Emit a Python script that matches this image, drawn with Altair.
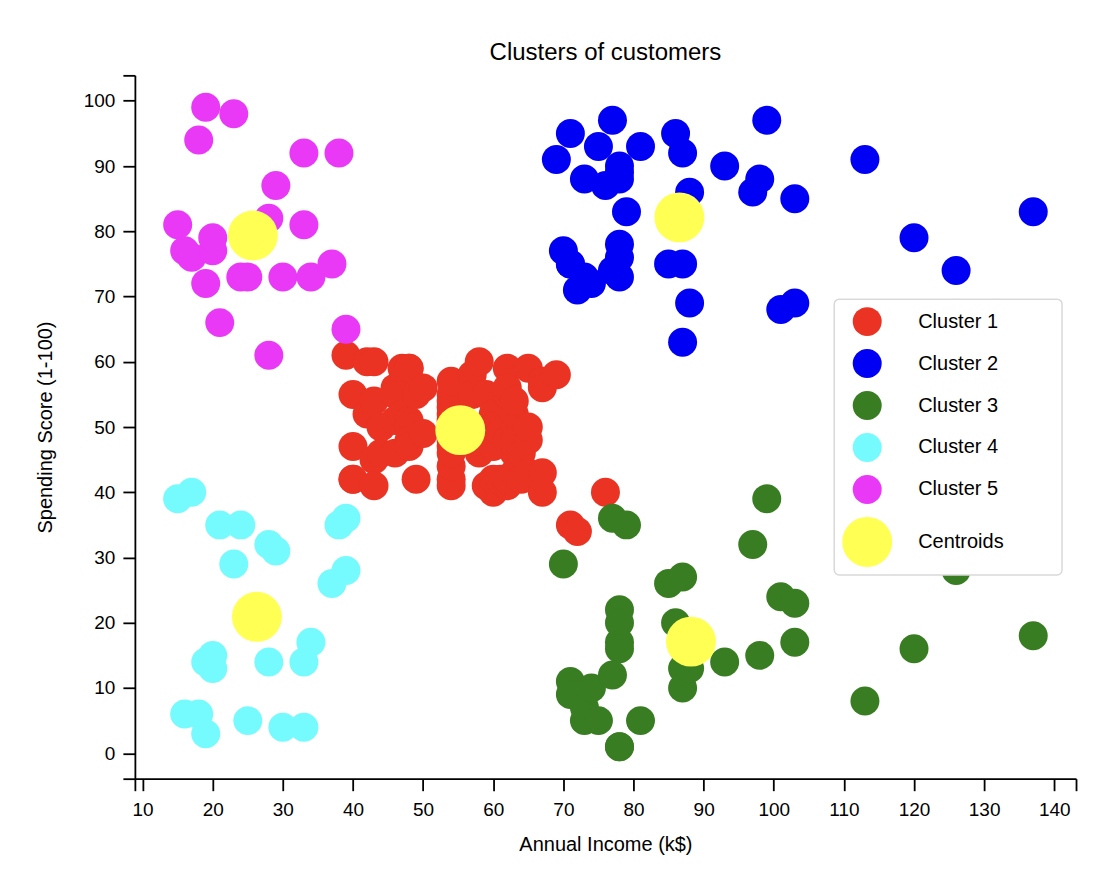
import altair as alt
import pandas as pd

# ---- data (Annual Income k$, Spending Score 1-100) ----
c1_income = [39, 40, 40, 40, 40, 42, 42, 43, 43, 43, 43, 44, 44, 46, 46, 46, 46, 47, 47,
             48, 48, 48, 48, 48, 48, 49, 49, 50, 50, 54, 54, 54, 54, 54, 54, 54, 54, 54,
             54, 54, 54, 57, 57, 58, 58, 59, 59, 60, 60, 60, 60, 60, 60, 61, 61, 62, 62,
             62, 62, 62, 62, 63, 63, 63, 63, 63, 63, 64, 64, 65, 65, 65, 65, 67, 67, 67,
             67, 69, 71, 72, 76]
c1_score = [61, 55, 47, 42, 42, 52, 60, 54, 60, 45, 41, 50, 46, 51, 46, 56, 55, 52, 59,
            51, 59, 50, 48, 59, 47, 55, 42, 49, 56, 47, 54, 53, 48, 52, 42, 51, 55, 41,
            44, 57, 46, 58, 55, 60, 46, 55, 41, 49, 40, 42, 52, 47, 50, 42, 49, 41, 48,
            59, 55, 56, 42, 50, 46, 43, 48, 52, 54, 42, 46, 48, 50, 43, 59, 43, 57, 56,
            40, 58, 35, 34, 40]

c2_income = [69, 70, 71, 71, 71, 72, 73, 73, 74, 75, 76, 77, 77, 78, 78, 78, 78, 78, 78,
             79, 81, 85, 86, 87, 87, 87, 88, 88, 93, 97, 98, 99, 101, 103, 103, 113, 120,
             126, 137]
c2_score = [91, 77, 95, 75, 75, 71, 88, 73, 72, 93, 87, 97, 74, 90, 88, 76, 89, 78, 73,
            83, 93, 75, 95, 63, 75, 92, 86, 69, 90, 86, 88, 97, 68, 85, 69, 91, 79, 74, 83]

c3_income = [70, 71, 71, 73, 73, 74, 75, 77, 77, 78, 78, 78, 78, 78, 78, 79, 81, 85, 86,
             87, 87, 87, 88, 88, 93, 97, 98, 99, 101, 103, 103, 113, 120, 126, 137]
c3_score = [29, 11, 9, 5, 7, 10, 5, 12, 36, 22, 17, 20, 16, 1, 1, 35, 5, 26, 20,
            27, 13, 10, 13, 15, 14, 32, 15, 39, 24, 17, 23, 8, 16, 28, 18]

c4_income = [15, 16, 17, 18, 19, 19, 20, 20, 21, 23, 24, 25, 28, 28, 29, 30, 33, 33, 34,
             37, 38, 39, 39]
c4_score = [39, 6, 40, 6, 3, 14, 15, 13, 35, 29, 35, 5, 14, 32, 31, 4, 4, 14, 17,
            26, 35, 36, 28]

c5_income = [15, 16, 17, 18, 19, 19, 20, 20, 21, 23, 24, 25, 28, 28, 29, 30, 33, 33, 34,
             37, 38, 39]
c5_score = [81, 77, 76, 94, 72, 99, 77, 79, 66, 98, 73, 73, 82, 61, 87, 73, 92, 81, 73,
            75, 92, 65]

centroid_income = [55.30, 86.54, 88.20, 26.30, 25.73]
centroid_score = [49.52, 82.13, 17.11, 20.91, 79.36]

groups = ["Cluster 1", "Cluster 2", "Cluster 3", "Cluster 4", "Cluster 5", "Centroids"]
colors = ["#EA3323", "#0000F5", "#387D22", "#75FBFD", "#EA38F7", "#FFFF54"]
sizes = [841, 841, 841, 841, 841, 2500]

x_ticks = [8.9, 10, 20, 30, 40, 50, 60, 70, 80, 90, 100, 110, 120, 130, 140, 143.1]
y_ticks = [-3.9, 0, 10, 20, 30, 40, 50, 60, 70, 80, 90, 100, 103.9]

series = [
    ("Cluster 1", c1_income, c1_score),
    ("Cluster 2", c2_income, c2_score),
    ("Cluster 3", c3_income, c3_score),
    ("Cluster 4", c4_income, c4_score),
    ("Cluster 5", c5_income, c5_score),
    ("Centroids", centroid_income, centroid_score),
]
rows = []
for name, xs, ys in series:
    for a, b in zip(xs, ys):
        rows.append({"group": name, "income": a, "score": b})
df = pd.DataFrame(rows)

FONT = "Liberation Sans, Arial, Helvetica, sans-serif"
PAD_TAIL = "\u00a0" * 9 + "\u200b"

legend = alt.Legend(
    title=None,
    orient="none",
    legendX=700,
    legendY=224,
    padding=8,
    fillColor="white",
    strokeColor="#d9d9d9",
    cornerRadius=5,
    labelFontSize=20,
    labelFont=FONT,
    labelColor="black",
    labelOffset=26,
    rowPadding=13,
    symbolType="circle",
    symbolStrokeWidth=0,
    symbolOpacity=1,
    labelExpr="datum.label + '" + PAD_TAIL + "'",
)

lab_expr = "(datum.value % 10 == 0) ? datum.label : ''"

chart = alt.Chart(df).mark_circle(opacity=1, strokeWidth=0).encode(
    x=alt.X(
        "income:Q",
        title="Annual Income (k$)",
        scale=alt.Scale(domain=[8.9, 143.1], nice=False, zero=False),
        axis=alt.Axis(values=x_ticks, format="d", labelExpr=lab_expr, grid=False,
                      tickSize=12, labelPadding=10, titlePadding=15,
                      labelOverlap=False, labelFlush=False),
    ),
    y=alt.Y(
        "score:Q",
        title="Spending Score (1-100)",
        scale=alt.Scale(domain=[-3.9, 103.9], nice=False, zero=False),
        axis=alt.Axis(values=y_ticks, format="d", labelExpr=lab_expr, grid=False,
                      tickSize=12, labelPadding=8, titlePadding=28,
                      labelOverlap=False, labelFlush=False),
    ),
    color=alt.Color("group:N", scale=alt.Scale(domain=groups, range=colors), legend=legend),
    size=alt.Size("group:N",
                  scale=alt.Scale(type="ordinal", domain=groups, range=sizes),
                  legend=legend),
).properties(
    width=942,
    height=704,
    autosize=alt.AutoSizeParams(type="none"),
    padding={"left": 127, "top": 67, "right": 20, "bottom": 100},
    title=alt.TitleParams(
        "Clusters of customers",
        fontSize=24,
        fontWeight="normal",
        font=FONT,
        color="black",
        anchor="middle",
        frame="group",
        baseline="alphabetic",
        offset=16,
        dy=34,
    ),
).configure_view(
    stroke=None
).configure_axis(
    domainColor="black",
    tickColor="black",
    domainWidth=1.8,
    tickWidth=1.8,
    labelColor="black",
    titleColor="black",
    labelFont=FONT,
    titleFont=FONT,
    labelFontSize=19,
    titleFontSize=20,
    titleFontWeight="normal",
).configure_legend(
    strokeWidth=1.5
)

chart.save("out.html", embed_options={"renderer": "svg", "actions": False})
